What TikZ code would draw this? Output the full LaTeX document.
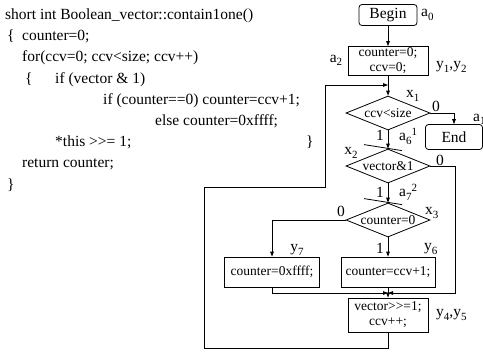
\documentclass[tikz,border=0pt]{standalone}
\usepackage{fontspec}
\setmainfont{Liberation Serif}
\usetikzlibrary{arrows.meta,shapes.geometric}

% small raised / lowered indices for the state and signal labels
\newcommand\lo[1]{\raisebox{-0.45ex}{\fontsize{11bp}{11bp}\selectfont #1}}
\newcommand\hi[1]{\raisebox{0.8ex}{\fontsize{11bp}{11bp}\selectfont #1}}

\begin{document}
\begin{tikzpicture}[x=1bp,y=-1bp,
  every node/.style={font=\fontsize{15.5bp}{18bp}\selectfont, inner sep=0pt},
  code/.style={anchor=base west},
  tag/.style={anchor=west},
  box/.style={draw, line width=0.8bp, align=center,
    font=\fontsize{13.5bp}{15bp}\selectfont},
  term/.style={draw, line width=0.8bp, rounded corners=3bp},
  cond/.style={draw, line width=0.8bp, shape=diamond, shape aspect=2.4,
    minimum width=84bp, minimum height=34bp,
    font=\fontsize{13.5bp}{15bp}\selectfont},
  line/.style={line width=0.8bp},
  arr/.style={line width=0.8bp, -{Triangle[length=5bp,width=3.6bp]}}]

\useasboundingbox (0,0) rectangle (483,360);

% ---- source code ----
\node[code] (l1) at (5,19)   {short int Boolean\_vector::contain1one()};
\node[code] (l2a) at (7,40)  {\{};
\node[code] (l2b) at (22,40) {counter=0;};
\node[code] (l3) at (22,61)  {for(ccv=0; ccv<size; ccv++)};
\node[code] (l4a) at (25,83) {\{};
\node[code] (l4b) at (55,83) {if (vector \& 1)};
\node[code] (l5) at (103,104) {if (counter==0) counter=ccv+1;};
\node[code] (l6) at (155,125) {else counter=0xffff;};
\node[code] (l7a) at (55,146) {*this >{}>= 1;};
\node[code] (l7b) at (306,146) {\}};
\node[code] (l8) at (22,167) {return counter;};
\node[code] (l9) at (7,189)  {\}};

% ---- flowchart ----
\node[term, minimum width=58bp, minimum height=21bp] (begin) at (388,15) {Begin};
\node[box, minimum width=80bp, minimum height=29bp] (init) at (388,61) {counter=0;\\ccv=0;};
\node[cond] (c1) at (388,113) {ccv<size};
\node[term, minimum width=57bp, minimum height=25bp] (end) at (454,137) {End};
\node[cond] (c2) at (388,166) {vector\&1};
\node[cond] (c3) at (388,220) {counter=0};
\node[box, minimum width=95bp, minimum height=30bp] (bl) at (272,272) {counter=0xffff;};
\node[box, minimum width=94bp, minimum height=30bp] (br) at (388,272) {counter=ccv+1;};
\node[box, minimum width=80bp, minimum height=34bp] (upd) at (388,315) {vector>{}>=1;\\ccv++;};

% labels
\node[tag] (ta0) at (421,15) {a\lo{0}};
\node (ta2) at (336,60) {a\lo{2}};
\node[tag] (ty12) at (436,67) {y\lo{1},y\lo{2}};
\node[tag] (tx1) at (406,96) {x\lo{1}};
\node (t0a) at (436,106) {0};
\node[tag] (ta1) at (473,119) {a\lo{1}};
\node[anchor=east] (t1a) at (384,135) {1};
\node[tag] (ta6) at (399,136) {a\lo{6}\hi{1}};
\node (tx2) at (351,153) {x\lo{2}};
\node (t0b) at (440,160) {0};
\node[anchor=east] (t1b) at (384,192) {1};
\node[tag] (ta7) at (399,192) {a\lo{7}\hi{2}};
\node (t0c) at (341,211) {0};
\node[tag] (tx3) at (425,213) {x\lo{3}};
\node (ty7) at (297,250) {y\lo{7}};
\node[anchor=east] (t1c) at (384,248) {1};
\node[tag] (ty6) at (424,249) {y\lo{6}};
\node[tag] (ty45) at (436,315) {y\lo{4},y\lo{5}};

% junction and bend points
\coordinate (j1) at (388,85);
\coordinate (mj) at (388,293);
\coordinate (mr) at (455,293);
\coordinate (lb) at (204,348);
\coordinate (lm) at (325,187);

% connectors
\draw[arr] (begin) -- (init);
\draw[arr] (init) -- (c1);
\draw[arr] (c1.east) -| (end.north);
\draw[arr] (c1) -- (c2);
\draw[arr] (c2) -- (c3);
\draw[arr] (c2.east) -| (mr) -- (mj);
\draw[arr] (c3.west) -| (bl.north);
\draw[arr] (c3) -- (br);
\draw[arr] (bl.south) |- (mj);
\draw[arr] (br) -- (upd);
\draw[arr] (upd.south) |- (lb) |- (lm) |- (j1);

% state marks on the arrows
\draw[line] ([shift={(-24,-4)}]c2.north) -- ([shift={(14,2)}]c2.north);
\draw[line] ([shift={(-24,-4)}]c3.north) -- ([shift={(14,2)}]c3.north);
\end{tikzpicture}
\end{document}
